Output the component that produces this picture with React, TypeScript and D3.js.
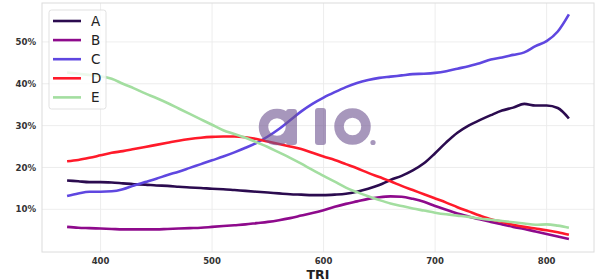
import React from "react";
import * as d3 from "d3";

const tri = [370,380,390,400,410,420,430,440,450,460,470,480,490,500,510,520,530,540,550,560,570,580,590,600,610,620,630,640,650,660,670,680,690,700,710,720,730,740,750,760,770,780,790,800,810,820];

const seriesA = [16.9,16.7,16.5,16.5,16.4,16.2,16.0,15.9,15.7,15.6,15.4,15.2,15.1,14.9,14.8,14.6,14.4,14.2,14.0,13.8,13.6,13.5,13.4,13.4,13.5,13.7,14.2,14.9,15.8,17.0,18.0,19.3,21.0,23.4,26.0,28.3,30.0,31.3,32.5,33.6,34.3,35.2,34.8,34.8,34.2,31.7];
const seriesB = [5.8,5.6,5.5,5.4,5.3,5.2,5.2,5.2,5.2,5.3,5.4,5.5,5.6,5.8,6.0,6.2,6.4,6.7,7.0,7.4,7.9,8.5,9.1,9.8,10.6,11.3,11.9,12.5,12.9,13.1,13.0,12.5,11.8,10.8,9.9,9.0,8.3,7.6,7.0,6.4,5.8,5.3,4.7,4.1,3.5,2.9];
const seriesC = [13.2,13.8,14.2,14.2,14.3,14.8,15.7,16.5,17.3,18.2,19.0,19.9,20.8,21.7,22.6,23.6,24.7,25.9,27.4,29.2,31.3,33.4,35.2,36.7,38.0,39.2,40.2,40.9,41.4,41.7,42.0,42.3,42.4,42.6,43.0,43.6,44.2,44.9,45.8,46.3,46.9,47.5,49.0,50.2,52.5,56.6];
const seriesD = [21.5,21.8,22.3,22.9,23.5,23.9,24.4,24.9,25.4,25.9,26.4,26.8,27.1,27.3,27.4,27.4,27.2,26.8,26.2,25.6,25.0,24.4,23.5,22.6,21.8,20.8,19.8,18.7,17.7,16.7,15.6,14.6,13.6,12.6,11.6,10.5,9.5,8.5,7.6,7.0,6.3,5.8,5.4,5.0,4.5,3.9];
const seriesE = [42.7,42.4,42.1,41.8,41.2,40.0,38.9,37.7,36.6,35.4,34.1,32.8,31.5,30.2,28.9,28.0,27.1,26.0,24.9,23.6,22.3,20.9,19.4,18.0,16.6,15.2,14.1,13.1,12.2,11.4,10.8,10.2,9.7,9.2,8.8,8.5,8.2,7.8,7.5,7.2,6.9,6.6,6.3,6.4,6.1,5.6];

const seriesNames = ["A", "B", "C", "D", "E"];
const seriesValues = [seriesA, seriesB, seriesC, seriesD, seriesE];
const seriesColors = ["#2b0b4f", "#8e0a8c", "#5f47e0", "#ff1a2a", "#a3dea0"];

const xTicks = [400, 500, 600, 700, 800];
const yTicks = [10, 20, 30, 40, 50];
const xLabel = "TRI";

const W = 600;
const H = 280;
const M = { left: 42, right: 6, top: 3, bottom: 28 };

export default function App() {
  const x = d3.scaleLinear().domain([347.5, 842.5]).range([M.left, W - M.right]);
  const y = d3.scaleLinear().domain([-0.2, 59.3]).range([H - M.bottom, M.top]);
  const line = d3
    .line<[number, number]>()
    .x((d) => x(d[0]))
    .y((d) => y(d[1]))
    .curve(d3.curveMonotoneX);

  const font = "'DejaVu Sans', sans-serif";
  const legendX = 49;
  const legendY = 10;
  const rowH = 19.1;

  return (
    <svg
      width={W}
      height={H}
      style={{ position: "absolute", left: 0, top: 0, background: "#fff" }}
      fontFamily={font}
    >
      <rect x={0} y={0} width={W} height={H} fill="#fff" />
      {/* grid */}
      {xTicks.map((t) => (
        <line key={"gx" + t} x1={x(t)} x2={x(t)} y1={M.top} y2={H - M.bottom} stroke="#ebebeb" strokeWidth={0.9} />
      ))}
      {yTicks.map((t) => (
        <line key={"gy" + t} x1={M.left} x2={W - M.right} y1={y(t)} y2={y(t)} stroke="#ebebeb" strokeWidth={0.9} />
      ))}
      {/* spines */}
      <rect x={M.left} y={M.top} width={W - M.left - M.right} height={H - M.top - M.bottom} fill="none" stroke="#dcdcdc" strokeWidth={1} />
      {/* lines */}
      {seriesValues.map((vals, i) => (
        <path
          key={seriesNames[i]}
          d={line(tri.map((t, j) => [t, vals[j]] as [number, number])) || ""}
          fill="none"
          stroke={seriesColors[i]}
          strokeWidth={2.6}
          strokeLinejoin="round"
          strokeLinecap="butt"
        />
      ))}
      {/* watermark */}
      <g fill="#6e5390" opacity={0.6}>
        <circle cx={277} cy={127} r={13.5} fill="none" stroke="#6e5390" strokeWidth={9.5} />
        <rect x={286} y={109} width={11} height={36} rx={3} />
        <rect x={315} y={108} width={11} height={37} rx={3} />
        <circle cx={352.5} cy={126.5} r={13.5} fill="none" stroke="#6e5390" strokeWidth={9.5} />
        <circle cx={373} cy={142.5} r={2.6} />
      </g>
      {/* ticks */}
      {xTicks.map((t) => (
        <text key={"tx" + t} x={x(t)} y={264} textAnchor="middle" fontSize={8.5} fontWeight="bold" fill="#333">
          {t}
        </text>
      ))}
      {yTicks.map((t) => (
        <text key={"ty" + t} x={36} y={y(t) + 3.1} textAnchor="end" fontSize={8.6} fontWeight="bold" fill="#333">
          {t}%
        </text>
      ))}
      <text x={(M.left + W - M.right) / 2} y={278.5} textAnchor="middle" fontSize={12.5} fontWeight="bold" fill="#222">
        {xLabel}
      </text>
      {/* legend */}
      <rect x={legendX} y={legendY} width={57} height={99} rx={2.5} fill="#fff" fillOpacity={0.8} stroke="#d9d9d9" strokeWidth={0.8} />
      {seriesNames.map((n, i) => (
        <g key={"lg" + n}>
          <line
            x1={legendX + 4}
            x2={legendX + 32}
            y1={legendY + 11 + i * rowH}
            y2={legendY + 11 + i * rowH}
            stroke={seriesColors[i]}
            strokeWidth={2.6}
          />
          <text x={legendX + 42} y={legendY + 11 + i * rowH + 5} fontSize={13.5} fill="#222">
            {n}
          </text>
        </g>
      ))}
    </svg>
  );
}
